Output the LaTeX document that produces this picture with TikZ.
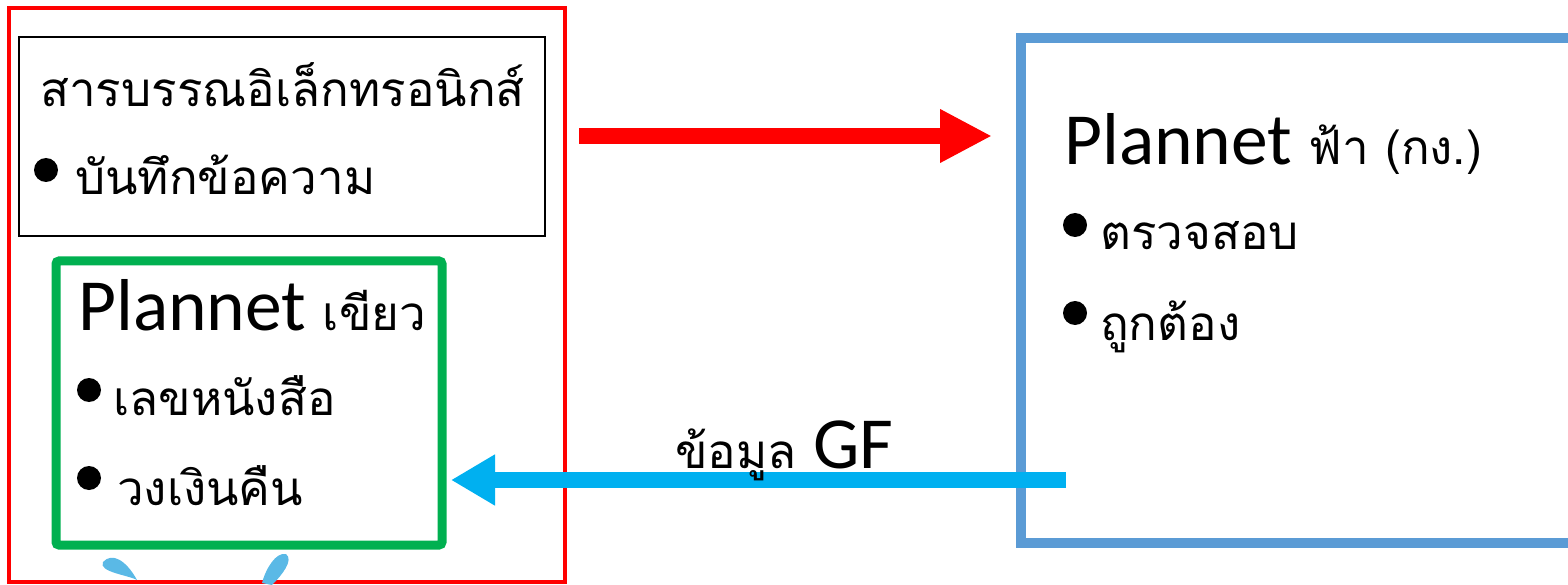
\documentclass[tikz,border=0pt]{standalone}
\usepackage{fontspec}
\setmainfont{Carlito}
\newfontfamily\thai[Script=Thai]{Loma}
\usetikzlibrary{arrows.meta}

\definecolor{boxred}{RGB}{255,0,0}
\definecolor{boxgreen}{RGB}{0,176,80}
\definecolor{boxblue}{RGB}{91,155,213}
\definecolor{arrowblue}{RGB}{0,176,240}
\definecolor{drop}{RGB}{90,185,230}

\newcommand{\thaisz}{\thai\fontsize{47.5}{52}\selectfont}

\tikzset{
  txt/.style={anchor=base west, inner sep=0pt, font=\thaisz},
  title/.style={anchor=base west, inner sep=0pt, font=\fontsize{73.5}{80}\selectfont},
  bul/.style={circle, fill=black, inner sep=0pt, minimum size=24pt},
}

\begin{document}
\begin{tikzpicture}[x=1pt, y=-1pt]
\useasboundingbox (0,0) rectangle (1568,585);

% boxes
\draw[boxred, line width=4pt]   (9,8)     rectangle (565,582);
\draw[black, line width=2.5pt]  (19,37)   rectangle (545,236);
\draw[boxgreen, line width=9pt, rounded corners=3pt] (56,261) rectangle (442,545);
\draw[boxblue, line width=10pt] (1021,38) rectangle (1590,543);

% left texts
\node[txt] (eoffice) at (40,107)  {สารบรรณอิเล็กทรอนิกส์};
\node[bul] (b1)      at (46,170)  {};
\node[txt] (memo)    at (75,195)  {บันทึกข้อความ};

\node[title] (green) at (78,330)  {Plannet {\thaisz เขียว}};
\node[bul] (b2)      at (89,390)  {};
\node[txt] (docno)   at (113,415) {เลขหนังสือ};
\node[bul] (b3)      at (89,478)  {};
\node[txt] (refund)  at (117,505) {วงเงินคืน};

% right texts
\node[title] (blue)  at (1064,165) {Plannet {\thaisz ฟ้า (กง.)}};
\node[bul] (b4)      at (1075,225) {};
\node[txt] (check)   at (1100,250) {ตรวจสอบ};
\node[bul] (b5)      at (1075,313) {};
\node[txt] (ok)      at (1100,340) {ถูกต้อง};

% arrows
\coordinate (r1) at (579,136);
\coordinate (r2) at (992,136);
\coordinate (c1) at (1066,480);
\coordinate (c2) at (451,480);

\draw[boxred, line width=16pt, -{Triangle[length=52pt,width=50pt]}] (r1) -- (r2);
\draw[arrowblue, line width=16pt, -{Triangle[length=44pt,width=48pt]}] (c1) -- (c2);
\node[txt, font=\fontsize{73.5}{80}\selectfont] (gf) at (675,468)
  {{\thaisz ข้อมูล} GF};

% droplets
\fill[drop] (103,562) .. controls (112,552) and (126,560) .. (137,580)
  .. controls (128,575) and (98,572) .. cycle;
\fill[drop] (262,583) .. controls (266,568) and (276,552) .. (286,554)
  .. controls (294,560) and (282,575) .. (272,585) -- cycle;
\end{tikzpicture}
\end{document}
